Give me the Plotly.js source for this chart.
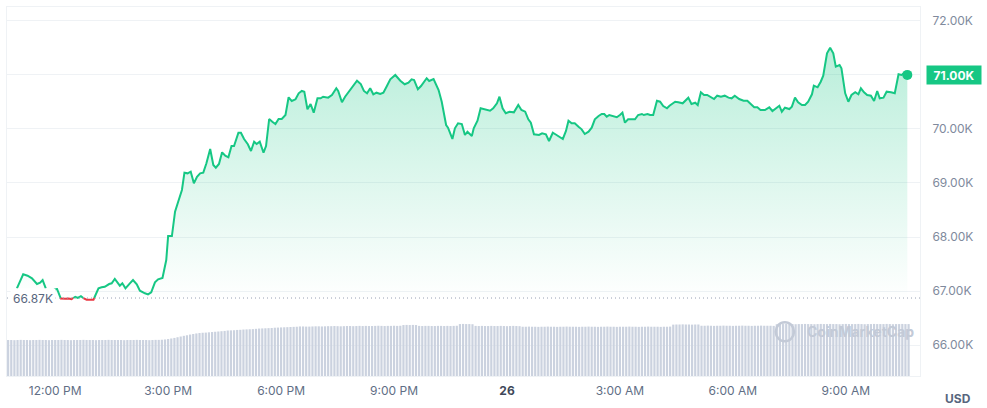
<!DOCTYPE html>
<html><head><meta charset="utf-8">
<script src="https://cdn.plot.ly/plotly-3.0.1.min.js"></script>
<style>html,body{margin:0;padding:0;background:#fff;}#chart{width:987px;height:408px;}</style>
</head><body><div id="chart"></div>
<script>
// minute 0 = 2024-03-25 12:00 PM
const openPrice = 66870;
const priceMinutes = [
 -61,-51,-44,-37,-29,-24,-20,-15,-12,-2,
 3,9,16,21,26,32,36,41,45,50,
 61,69,74,79,86,90,95,103,107,112,
 119,124,130,135,143,148,153,159,164,171,
 177,180,186,191,196,202,206,211,216,221,
 226,231,236,241,247,252,256,261,266,271,
 276,281,285,292,296,301,307,312,317,321,
 326,332,336,341,346,351,356,361,367,372,
 377,383,388,393,397,402,407,412,418,423,
 427,435,441,448,451,457,462,469,475,481,
 487,492,497,502,507,512,518,523,528,534,
 542,550,557,563,568,572,578,583,592,596,
 603,611,616,623,626,633,637,642,648,653,
 657,664,667,673,678,685,693,698,704,708,
 713,718,724,731,738,743,749,754,758,763,
 771,776,782,787,793,799,804,809,814,818,
 823,828,834,839,844,850,855,860,866,871,
 875,879,883,889,895,900,904,908,913,919,
 924,929,935,938,944,948,953,959,964,969,
 975,979,988,993,1000,1009,1014,1020,1024,1029,
 1034,1039,1046,1050,1055,1061,1067,1073,1078,1083,
 1090,1097,1103,1108,1114,1119,1124,1131,1138,1143,
 1149,1154,1158,1163,1170,1174,1179,1184,1190,1195,
 1200,1206,1209,1215,1220,1224,1230,1235,1240,1244,
 1250,1253,1259,1264,1269,1275,1280,1284,1289,1294,
 1300,1305,1310,1314,1320,1325,1332,1338,1344,1349,1352,1358
];
const priceValues = [
 67050,67309,67283,67235,67129,67153,67203,67050,null,67031,
 67037,66860,66855,66862,66850,66893,66872,66905,66868,66840,
 66840,67050,67068,67079,67129,67142,67222,67098,67142,67050,
 67142,67203,67124,67005,66957,66938,66976,67161,67216,67240,
 67574,68018,68018,68468,68653,68870,69191,69179,69209,68994,
 69116,69179,69191,69365,69629,69333,69283,69352,69568,69505,
 69476,69685,69685,69931,69931,69815,69717,69592,69765,69722,
 69765,69561,69685,70185,70135,70092,70185,70185,70259,70587,
 70518,70550,70661,70704,70691,70365,70463,70302,70568,70568,
 70598,70580,70630,70754,70704,70494,70598,70704,70783,70894,
 70833,70704,70661,70754,70642,70672,70648,70672,70783,70920,
 71000,70894,70828,70857,70920,70907,70735,70796,70939,70889,
 70926,70722,70505,70074,70024,69815,70013,70105,70092,69889,
 69950,69870,70013,70154,70383,70365,70339,70383,70476,70598,
 70383,70291,70320,70309,70444,70352,70320,70179,70117,69902,
 69889,69920,69902,69778,69931,69889,69857,69815,69963,70154,
 70105,70105,70042,69994,69907,69950,70024,70179,70241,70278,
 70278,70228,70259,70241,70217,70259,70302,70117,70179,70179,
 70179,70259,70278,70259,70278,70259,70259,70524,70505,70426,
 70383,70431,70505,70494,70476,70580,70463,70487,70444,70680,
 70630,70630,70580,70555,70617,70598,70617,70580,70568,70617,
 70555,70524,70524,70476,70402,70402,70352,70352,70402,70333,
 70383,70431,70320,70394,70370,70413,70580,70494,70444,70444,
 70505,70642,70802,70772,70876,70987,71402,71506,71402,71154,
 71185,71124,70661,70505,70630,70680,70642,70754,70680,70630,
 70617,70518,70704,70568,70580,70691,70680,70661,71013,71000,71031,71002
];
// 24h volume (billions USD), one bar per 5 minutes starting at minute -75
const volumeStartMinute = -75;
const volumeStepMinutes = 5;
const volumeValues = [
 25.7,25.7,25.6,25.7,25.8,25.7,25.7,25.6,25.7,25.7,25.8,25.7,
 25.7,25.6,25.7,25.7,25.7,25.8,25.7,25.7,25.6,25.7,25.7,25.7,
 25.8,25.7,25.7,25.7,25.6,25.7,25.7,25.7,25.8,25.7,25.7,25.7,
 25.7,25.6,25.7,25.7,25.7,25.8,25.7,25.7,25.7,25.6,25.7,25.8,
 25.8,25.9,26.1,26.4,26.8,27.2,27.7,28.2,28.7,29.1,29.6,30.0,
 30.4,30.7,30.9,31.0,31.2,31.4,31.6,31.8,32.0,32.2,32.5,32.6,
 32.7,32.9,33.0,33.2,33.3,33.4,33.5,33.7,33.9,34.0,34.1,34.2,
 34.3,34.5,34.6,34.7,34.8,34.9,35.0,35.1,35.2,35.4,35.4,35.3,
 35.3,35.4,35.5,35.5,35.4,35.5,35.6,35.6,35.7,35.6,35.5,35.6,
 35.7,35.7,35.6,35.7,35.8,35.7,35.8,35.7,35.7,35.8,35.9,35.8,
 35.7,35.8,35.8,35.9,35.8,35.9,36.4,36.5,36.4,36.5,36.4,35.8,
 35.7,35.8,35.8,35.7,35.7,35.8,35.8,35.7,35.8,35.7,35.8,35.9,
 37.1,37.2,37.1,37.1,37.0,35.8,35.7,35.8,35.7,35.7,35.8,35.7,
 35.7,35.8,35.7,35.6,35.7,35.8,35.7,35.6,35.2,35.2,35.3,35.2,
 35.2,35.1,35.2,35.2,35.3,35.2,35.2,35.1,35.2,35.2,35.3,35.2,
 35.2,35.2,35.1,35.2,35.2,35.3,35.2,35.2,35.1,35.2,35.2,35.3,
 35.2,35.2,35.1,35.2,35.2,35.2,35.3,35.2,35.2,35.1,35.2,35.2,
 35.3,35.2,35.2,35.2,35.1,35.2,35.2,35.3,36.7,36.8,36.8,36.9,
 36.8,36.8,36.7,36.8,36.8,35.9,35.9,36.0,35.9,35.8,35.9,35.9,
 36.0,35.9,35.9,35.8,35.9,35.9,36.0,35.9,35.9,35.8,35.9,35.9,
 36.0,35.9,35.9,35.9,35.8,37.0,37.1,37.1,37.2,37.1,37.1,37.0,
 37.1,37.1,37.2,37.1,37.1,37.0,37.1,37.2,37.1,37.1,37.2,37.1,
 37.1,37.0,37.1,37.2,37.1,37.1,37.1,37.2,37.1,37.0,37.1,37.1,
 37.2,37.1,37.1,37.1,37.2,37.1,37.0,37.1,37.1,37.2,37.1,37.1
];
const xTickMinutes = [0,180,360,540,720,900,1080,1260];
const xTickLabels = ['12:00 PM','3:00 PM','6:00 PM','9:00 PM','<span style="font-weight:bold;color:#3e4758">26</span>','3:00 AM','6:00 AM','9:00 AM'];
const yTickValues = [66000,67000,68000,69000,70000,71000,72000];
const yTickLabels = ['66.00K','67.00K','68.00K','69.00K','70.00K','71.00K','72.00K'];

const GREEN = '#16c784', RED = '#ea3943';
const BASE_MS = Date.UTC(2024, 2, 25, 12, 0, 0);
function toDate(m) {
  if (m === null) return null;
  return new Date(BASE_MS + m * 60000).toISOString().slice(0, 23).replace('T', ' ');
}

// split the price path into parts above (green) and below (red) the open price
const G = {x: [], y: []}, R = {x: [], y: []};
let prev = null;
function addPiece(c, x0, y0, x1, y1) {
  const t = c === 'g' ? G : R;
  if (prev === c) { t.x.push(x1); t.y.push(y1); }
  else { t.x.push(null, x0, x1); t.y.push(null, y0, y1); }
  prev = c;
}
for (let i = 0; i < priceMinutes.length - 1; i++) {
  const x0 = priceMinutes[i], x1 = priceMinutes[i + 1];
  const y0 = priceValues[i], y1 = priceValues[i + 1];
  if (y0 === null || y1 === null) { prev = null; continue; }
  const a0 = y0 >= openPrice, a1 = y1 >= openPrice;
  if (a0 === a1) addPiece(a0 ? 'g' : 'r', x0, y0, x1, y1);
  else {
    const xc = x0 + (openPrice - y0) / (y1 - y0) * (x1 - x0);
    addPiece(a0 ? 'g' : 'r', x0, y0, xc, openPrice);
    addPiece(a1 ? 'g' : 'r', xc, openPrice, x1, y1);
  }
}

const fillX = [], fillY = [];
priceMinutes.forEach((m, i) => { if (priceValues[i] !== null) { fillX.push(toDate(m)); fillY.push(priceValues[i]); } });
const lastX = fillX[fillX.length - 1], lastY = fillY[fillY.length - 1];
const volX = volumeValues.map((v, i) => toDate(volumeStartMinute + i * volumeStepMinutes));
// the tick label hidden behind the current-price tag is left blank
const shownYLabels = yTickLabels.map((t, i) => Math.abs(yTickValues[i] - lastY) < 250 ? '' : t);

const traces = [
  {type: 'bar', x: volX, y: volumeValues, yaxis: 'y2', marker: {color: '#cbd2df', line: {width: 0}}, hoverinfo: 'skip'},
  {type: 'scatter', mode: 'lines', x: [fillX[0], lastX], y: [openPrice, openPrice], line: {width: 0, color: 'rgba(0,0,0,0)'}, hoverinfo: 'skip'},
  {type: 'scatter', mode: 'lines', x: fillX, y: fillY, fill: 'tonexty', fillcolor: 'rgba(22,199,132,0.15)',
   fillgradient: {type: 'vertical', colorscale: [[0, 'rgba(22,199,132,0)'], [1, 'rgba(22,199,132,0.3)']]},
   line: {width: 0, color: 'rgba(0,0,0,0)'}, hoverinfo: 'skip'},
  {type: 'scatter', mode: 'lines', x: G.x.map(toDate), y: G.y, line: {color: GREEN, width: 2}, connectgaps: false},
  {type: 'scatter', mode: 'lines', x: R.x.map(toDate), y: R.y, line: {color: RED, width: 2}, connectgaps: false},
  {type: 'scatter', mode: 'markers', x: [lastX], y: [lastY], marker: {color: GREEN, size: 10}}
];

const layout = {
  width: 987, height: 408,
  margin: {l: 7, r: 67, t: 7, b: 32},
  paper_bgcolor: '#ffffff', plot_bgcolor: '#ffffff',
  showlegend: false,
  font: {family: 'Inter, "Noto Sans", sans-serif', size: 12, color: '#58667e'},
  bargap: 0.3,
  xaxis: {type: 'date', range: [toDate(-76.8), toDate(1378.2)],
    tickvals: xTickMinutes.map(toDate), ticktext: xTickLabels,
    showgrid: false, zeroline: false, showline: true, mirror: true, linecolor: '#eff2f5', linewidth: 1,
    ticks: '', ticklabelstandoff: 4, tickfont: {size: 12, color: '#616e85'}},
  yaxis: {side: 'right', range: [65426, 72259], tickvals: yTickValues, ticktext: shownYLabels,
    showgrid: true, gridcolor: '#eff2f5', gridwidth: 1, zeroline: false,
    showline: true, mirror: true, linecolor: '#eff2f5', linewidth: 1,
    ticks: '', ticklabelstandoff: 9, tickfont: {size: 12, color: '#808a9d'}},
  yaxis2: {overlaying: 'y', range: [0, 263.6], visible: false},
  shapes: [
    {type: 'line', xref: 'paper', x0: 0, x1: 1, yref: 'y', y0: openPrice, y1: openPrice,
     line: {color: '#98a1b3', width: 1, dash: '1px,3px'}},
    {type: 'circle', xref: 'paper', yref: 'paper', x0: 0.842, x1: 0.862, y0: 0.094, y1: 0.146,
     line: {color: '#c3cad7', width: 2.5}}
  ],
  annotations: [
    {xref: 'paper', x: 0, xanchor: 'left', xshift: 3, yref: 'y', y: openPrice, yanchor: 'middle',
     text: (openPrice / 1000).toFixed(2) + 'K', showarrow: false, bgcolor: '#ffffff', borderpad: 2,
     font: {size: 12, color: '#58667e'}},
    {xref: 'paper', x: 1, xanchor: 'left', xshift: 6, yref: 'y', y: lastY, yanchor: 'middle',
     text: '<b>' + (lastY / 1000).toFixed(2) + 'K</b>', showarrow: false, bgcolor: GREEN,
     width: 50, height: 14, borderpad: 2, font: {size: 12, color: '#ffffff'}},
    {xref: 'paper', x: 1, xanchor: 'center', xshift: 38, yref: 'paper', y: 0, yanchor: 'middle', yshift: -22,
     text: '<b>USD</b>', showarrow: false, font: {size: 12, color: '#58667e'}},
    {xref: 'paper', x: 0.935, xanchor: 'center', yref: 'paper', y: 0.121, yanchor: 'middle',
     text: '<b>CoinMarketCap</b>', showarrow: false, font: {size: 14, color: '#c3cad7'}}
  ]
};
Plotly.newPlot('chart', traces, layout, {displayModeBar: false, staticPlot: true});
</script></body></html>
